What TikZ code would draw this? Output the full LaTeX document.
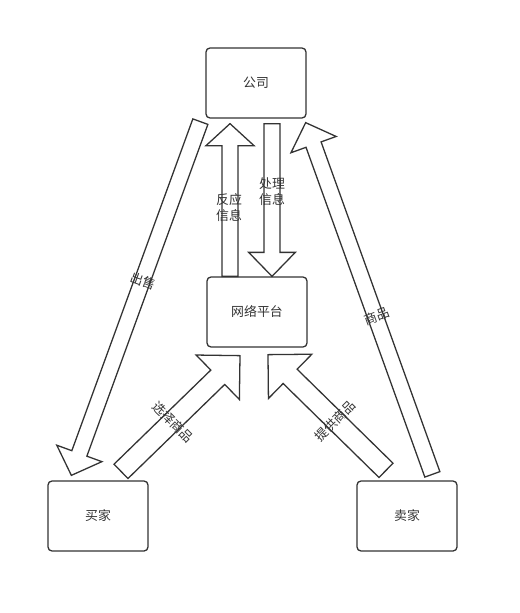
\documentclass[tikz,border=0pt]{standalone}
\usepackage{fontspec}
\setmainfont{Noto Sans CJK SC}
\usepackage{tikz}
\usetikzlibrary{calc}
\definecolor{ink}{HTML}{333333}

\tikzset{
  box/.style={draw=ink, line width=1.1pt, rounded corners=0.12cm, minimum width=3cm, minimum height=2.1cm, text=ink, font=\fontsize{11}{13.6}\selectfont},
  fatarrow/.style={draw=ink, line width=1.1pt, line join=miter},
  lbl/.style={text=ink, font=\fontsize{11}{13.6}\selectfont, align=center, inner sep=0pt}
}

% block arrow: tail, tip, shaft half width, head half width, head length
\newcommand{\blockarrow}[5]{%
  \coordinate (hb) at ($(#2)!#5!(#1)$);
  \draw[fatarrow] ($(#1)!#3!90:(#2)$) -- ($(hb)!#3!90:(#2)$) -- ($(hb)!#4!90:(#2)$) -- (#2)
    -- ($(hb)!#4!-90:(#2)$) -- ($(hb)!#3!-90:(#2)$) -- ($(#1)!#3!-90:(#2)$) -- cycle;
}

\begin{document}
\begin{tikzpicture}[x=0.03cm, y=-0.03cm]
\useasboundingbox (0,0) rectangle (519,613);

\node[box] (company) at (256,83) {公司};
\node[box] (platform) at (257,312) {网络平台};
\node[box] (buyer) at (98,516) {买家};
\node[box] (seller) at (407,516) {卖家};

% ends of the arrows
\coordinate (upTail) at ($(platform.north)+(-27,0)$);
\coordinate (upTip) at ($(company.south)+(-26,5)$);
\coordinate (downTail) at ($(company.south)+(16,5)$);
\coordinate (downTip) at ($(platform.north)+(15,0)$);
\coordinate (sellTail) at ($(company.south west)+(-5,3)$);
\coordinate (sellTip) at ($(buyer.north west)+(24,-5)$);
\coordinate (goodsTail) at ($(seller.north west)+(76,-6)$);
\coordinate (goodsTip) at ($(company.south east)+(-1,4)$);
\coordinate (chooseTail) at ($(buyer.north)+(23,-9)$);
\coordinate (chooseTip) at ($(platform.south)+(-17,8)$);
\coordinate (offerTail) at ($(seller.north)+(-21,-10)$);
\coordinate (offerTip) at ($(platform.south)+(11,7)$);

\blockarrow{upTail}{upTip}{0.24cm}{0.72cm}{0.66cm}
\blockarrow{downTail}{downTip}{0.24cm}{0.7cm}{0.72cm}
\blockarrow{sellTail}{sellTip}{0.24cm}{0.72cm}{0.7cm}
\blockarrow{goodsTail}{goodsTip}{0.24cm}{0.72cm}{0.7cm}
\blockarrow{chooseTail}{chooseTip}{0.3cm}{0.93cm}{0.93cm}
\blockarrow{offerTail}{offerTip}{0.3cm}{0.93cm}{0.93cm}

\node[lbl] (feedback) at (229,208) {反应\\信息};
\node[lbl] (handle) at (272,192) {处理\\信息};
\node[lbl, rotate=-20] (sell) at (143,281) {出售};
\node[lbl, rotate=20] (goods) at (377,316) {商品};
\node[lbl, rotate=-45] (choose) at (173,422) {选择商品};
\node[lbl, rotate=45] (offer) at (335,421) {提供商品};

\end{tikzpicture}
\end{document}
